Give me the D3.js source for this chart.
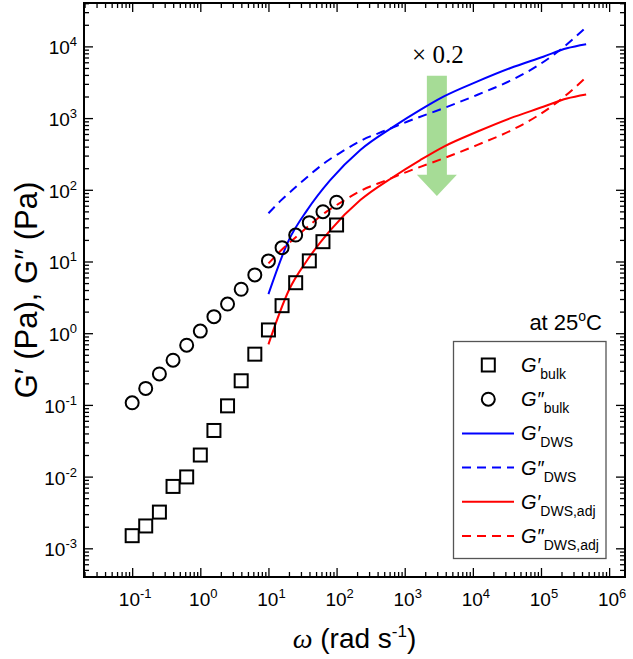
<!DOCTYPE html>
<html>
<head>
<meta charset="utf-8">
<script src="https://cdn.jsdelivr.net/npm/d3@7"></script>
<style>
  body { margin: 0; background: #fff; }
  svg text { font-family: "Liberation Sans", Arial, sans-serif; fill: #000; }
</style>
</head>
<body>
<svg id="chart"></svg>
<script>
// bulk rheometer data
const omegaBulk = [0.1, 0.158, 0.251, 0.398, 0.631, 1, 1.585, 2.51, 3.98, 6.31, 10, 15.85, 25.1, 39.8, 63.1, 100];
const gpBulk  = [0.0015, 0.00205, 0.0032, 0.0073, 0.0099, 0.020, 0.044, 0.097, 0.217, 0.51, 1.11, 2.42, 5.06, 10.2, 18.9, 32.3];
const gppBulk = [0.107, 0.17, 0.27, 0.42, 0.68, 1.07, 1.70, 2.55, 4.1, 6.5, 10.2, 15.6, 23.4, 34.8, 49.5, 67];

// DWS curves
const omegaSolid = [10, 20, 37, 80, 223, 686, 1690, 3700, 11500, 35000, 108000, 240000, 460000];
const gpDws      = [3.5, 20, 52, 135, 359, 759, 1300, 1990, 3220, 4950, 7180, 9400, 10700];
const gpDwsAdj   = [0.7, 4, 10.4, 27, 71.8, 152, 260, 398, 644, 990, 1436, 1880, 2140];

const omegaDashed = [10, 15, 26, 40, 72, 120, 223, 547, 1080, 3700, 11500, 35000, 87000, 170000, 460000];
const gppDws      = [47, 70, 112, 160, 250, 340, 480, 683, 890, 1370, 2100, 3300, 5300, 8200, 18500];
const gppDwsAdj   = [9.4, 14, 22.4, 32, 50, 68, 96, 137, 178, 274, 420, 660, 1060, 1640, 3700];

const xMajor = [-1, 0, 1, 2, 3, 4, 5, 6];
const yMajor = [-3, -2, -1, 0, 1, 2, 3, 4];

const legendItems = [
    {sym: 'square', sup: '′', sub: 'bulk'},
    {sym: 'circle', sup: '″', sub: 'bulk'},
    {sym: 'line', color: '#0000ff', dash: null, sup: '′', sub: 'DWS'},
    {sym: 'line', color: '#0000ff', dash: '9,6', sup: '″', sub: 'DWS'},
    {sym: 'line', color: '#ff0000', dash: null, sup: '′', sub: 'DWS,adj'},
    {sym: 'line', color: '#ff0000', dash: '9,6', sup: '″', sub: 'DWS,adj'}
];

const W = 633, H = 659;
const margin = {top: 3, right: 8, bottom: 82, left: 84};
const w = W - margin.left - margin.right;
const h = H - margin.top - margin.bottom;

const svg = d3.select('#chart').attr('width', W).attr('height', H);
const g = svg.append('g').attr('transform', `translate(${margin.left},${margin.top})`);

const x = d3.scaleLog().domain([Math.pow(10, -1.707), Math.pow(10, 6.233)]).range([0, w]);
const y = d3.scaleLog().domain([Math.pow(10, -3.40), Math.pow(10, 4.605)]).range([h, 0]);

function minors(scale) {
    const [a, b] = scale.domain();
    const out = [];
    for (let e = Math.floor(Math.log10(a)); e <= Math.ceil(Math.log10(b)); e++) {
        for (let m = 2; m <= 9; m++) {
            const v = m * Math.pow(10, e);
            if (v >= a && v <= b) out.push(v);
        }
    }
    return out;
}

const xMaj = xMajor.map(e => Math.pow(10, e));
const yMaj = yMajor.map(e => Math.pow(10, e));

// ticks, all pointing inward, on four sides
function ticks(axis, vals, size, tr) {
    const grp = g.append('g').attr('transform', tr)
        .call(axis.tickValues(vals).tickSize(size).tickFormat(''));
    grp.select('.domain').remove();
    grp.selectAll('line').attr('stroke', '#000').attr('stroke-width', 1.3);
}
ticks(d3.axisBottom(x), xMaj, -9, `translate(0,${h})`);
ticks(d3.axisBottom(x), minors(x), -5, `translate(0,${h})`);
ticks(d3.axisTop(x), xMaj, -9, 'translate(0,0)');
ticks(d3.axisTop(x), minors(x), -5, 'translate(0,0)');
ticks(d3.axisLeft(y), yMaj, -9, 'translate(0,0)');
ticks(d3.axisLeft(y), minors(y), -5, 'translate(0,0)');
ticks(d3.axisRight(y), yMaj, -9, `translate(${w},0)`);
ticks(d3.axisRight(y), minors(y), -5, `translate(${w},0)`);

g.append('rect').attr('width', w).attr('height', h)
    .attr('fill', 'none').attr('stroke', '#000').attr('stroke-width', 2);

// tick labels 10^n
const expText = e => (e < 0 ? '-' + (-e) : String(e));
xMajor.forEach(e => {
    const t = g.append('text').attr('x', x(Math.pow(10, e)) + 3).attr('y', h + 29)
        .attr('text-anchor', 'middle').style('font-size', '19px');
    t.append('tspan').text('10');
    t.append('tspan').attr('dy', -8).style('font-size', '13px').text(expText(e));
});
yMajor.forEach(e => {
    const t = g.append('text').attr('x', -7).attr('y', y(Math.pow(10, e)) + 8)
        .attr('text-anchor', 'end').style('font-size', '19px');
    t.append('tspan').text('10');
    t.append('tspan').attr('dy', -8).style('font-size', '13px').text(expText(e));
});

// axis titles
const xt = svg.append('text').attr('x', margin.left + w / 2).attr('y', 648)
    .attr('text-anchor', 'middle').style('font-size', '28px');
xt.append('tspan').style('font-family', '"Liberation Serif", serif').style('font-style', 'italic').text('ω');
xt.append('tspan').text(' (rad s');
xt.append('tspan').attr('dy', -11).style('font-size', '17px').text('-1');
xt.append('tspan').attr('dy', 11).text(')');

svg.append('text')
    .attr('transform', `translate(37,${margin.top + h / 2}) rotate(-90)`)
    .attr('text-anchor', 'middle').style('font-size', '31px')
    .text('G′ (Pa), G″ (Pa)');

// green arrow (x 0.2)
const ax = x(2965), aTop = y(3890), aNeck = y(162), aTip = y(82);
g.append('path')
    .attr('d', `M${ax - 10},${aTop}H${ax + 10}V${aNeck}H${ax + 20}L${ax},${aTip}L${ax - 20},${aNeck}H${ax - 10}Z`)
    .attr('fill', '#5cbf3f').attr('fill-opacity', 0.55);
g.append('text').attr('x', ax + 1).attr('y', 60).attr('text-anchor', 'middle')
    .style('font-family', '"Liberation Serif", serif').style('font-size', '25px')
    .text('× 0.2');

// curves
const line = d3.line().x(d => x(d[0])).y(d => y(d[1])).curve(d3.curveMonotoneX);
function curve(om, vals, color, dash) {
    g.append('path').datum(om.map((o, i) => [o, vals[i]]))
        .attr('d', line).attr('fill', 'none')
        .attr('stroke', color).attr('stroke-width', 2)
        .attr('stroke-dasharray', dash);
}
curve(omegaSolid, gpDws, '#0000ff', null);
curve(omegaDashed, gppDws, '#0000ff', '9,6');
curve(omegaSolid, gpDwsAdj, '#ff0000', null);
curve(omegaDashed, gppDwsAdj, '#ff0000', '9,6');

// bulk markers
const ms = 13;
g.append('g').selectAll('rect').data(omegaBulk).join('rect')
    .attr('x', d => x(d) - ms / 2).attr('y', (d, i) => y(gpBulk[i]) - ms / 2)
    .attr('width', ms).attr('height', ms)
    .attr('fill', 'none').attr('stroke', '#000').attr('stroke-width', 2);
g.append('g').selectAll('circle').data(omegaBulk).join('circle')
    .attr('cx', d => x(d)).attr('cy', (d, i) => y(gppBulk[i])).attr('r', 6.5)
    .attr('fill', 'none').attr('stroke', '#000').attr('stroke-width', 2);

// temperature note
const tn = svg.append('text').attr('x', 602).attr('y', 330).attr('text-anchor', 'end')
    .style('font-size', '22px');
tn.append('tspan').text('at 25');
tn.append('tspan').attr('dy', -9).style('font-size', '14px').text('o');
tn.append('tspan').attr('dy', 9).text('C');

// legend
const lg = svg.append('g');
lg.append('rect').attr('x', 453.5).attr('y', 341.5).attr('width', 152.5).attr('height', 217)
    .attr('fill', '#fff').attr('stroke', '#555').attr('stroke-width', 1.3);
legendItems.forEach((d, i) => {
    const cy = 365 + i * 34.2;
    if (d.sym === 'square') {
        lg.append('rect').attr('x', 488.3 - ms / 2).attr('y', cy - ms / 2).attr('width', ms).attr('height', ms)
            .attr('fill', 'none').attr('stroke', '#000').attr('stroke-width', 2);
    } else if (d.sym === 'circle') {
        lg.append('circle').attr('cx', 488.3).attr('cy', cy).attr('r', 6.5)
            .attr('fill', 'none').attr('stroke', '#000').attr('stroke-width', 2);
    } else {
        lg.append('line').attr('x1', 462).attr('x2', 514).attr('y1', cy).attr('y2', cy)
            .attr('stroke', d.color).attr('stroke-width', 2).attr('stroke-dasharray', d.dash);
    }
    const t = lg.append('text').attr('x', 521).attr('y', cy + 7).style('font-size', '20px');
    t.append('tspan').style('font-style', 'italic').text('G' + d.sup);
    t.append('tspan').attr('dy', 7).style('font-size', '14px').text(d.sub);
});
</script>
</body>
</html>
